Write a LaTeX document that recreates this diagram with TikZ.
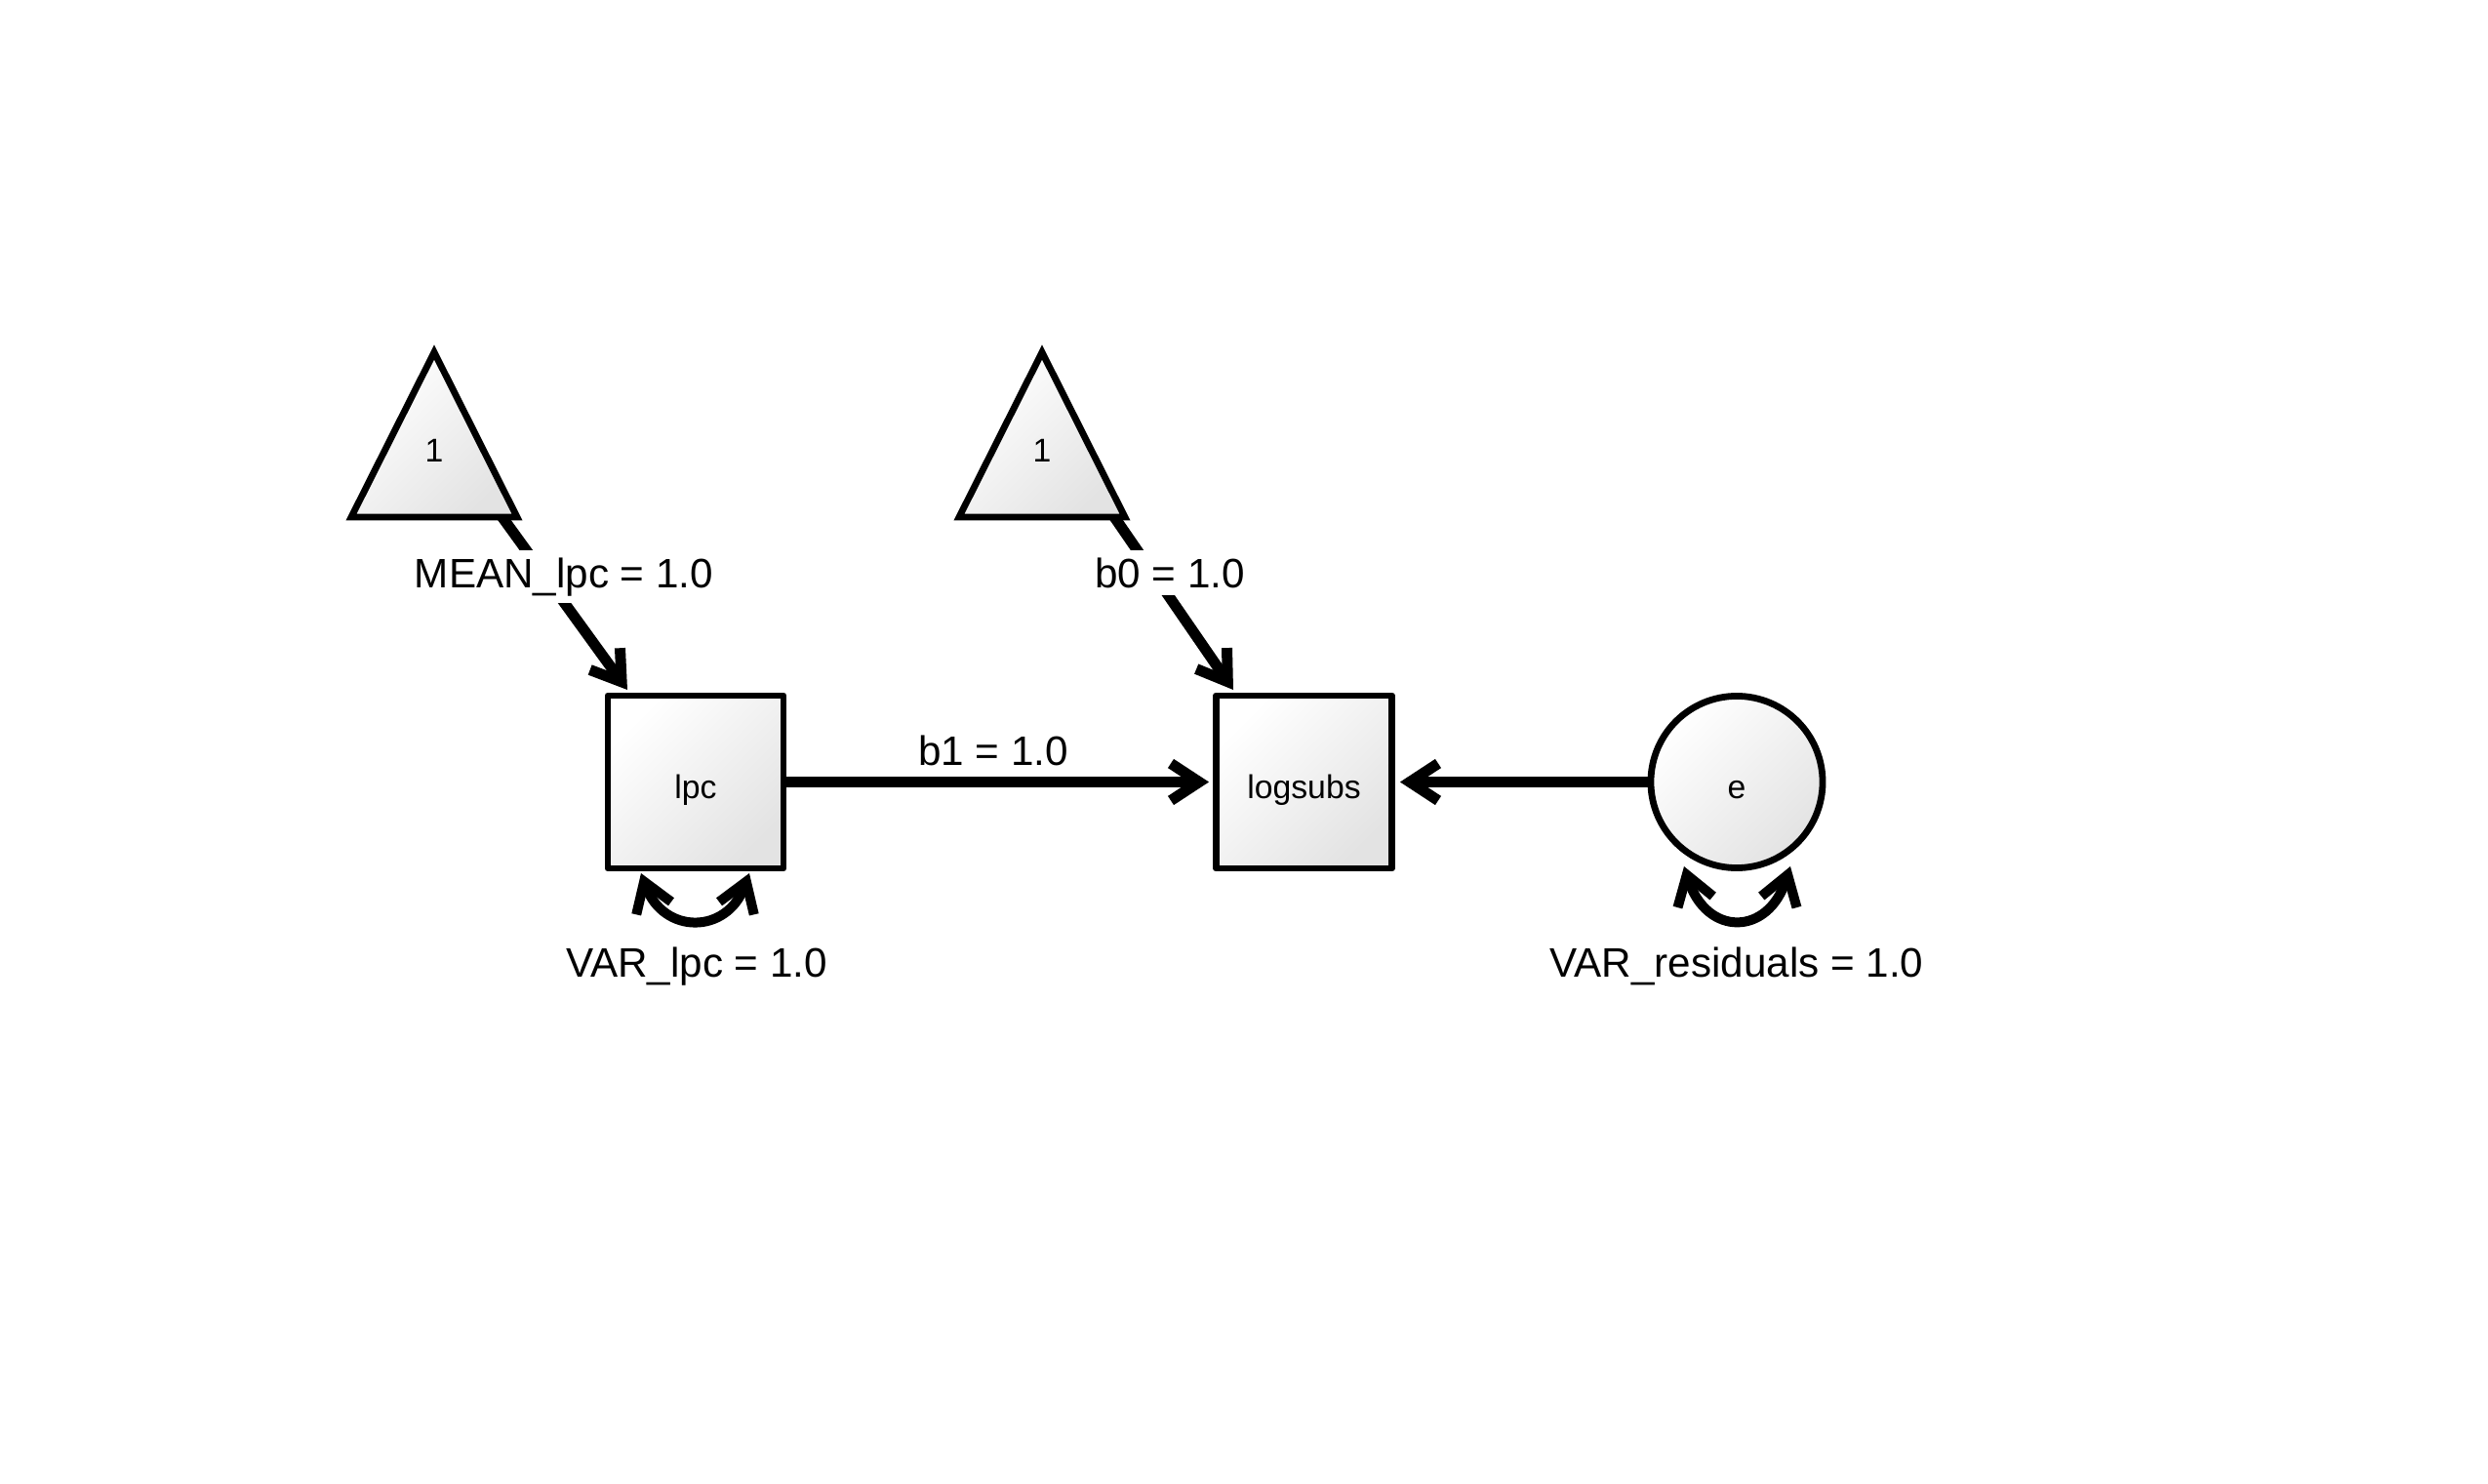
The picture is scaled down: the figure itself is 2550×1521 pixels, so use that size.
\documentclass[tikz,border=0pt]{standalone}
\usepackage{fontspec}
\setmainfont{Liberation Sans}
\usetikzlibrary{arrows.meta,backgrounds,calc}
\begin{document}
\begin{tikzpicture}[x=0.01cm,y=-0.01cm,
  barb/.tip={Straight Barb[length=0.29cm,width=0.38cm,sharp]},
  conn/.style={line width=0.11cm, -barb},
  loopconn/.style={line width=0.10cm, barb-barb},
  shapefill/.style={draw=black, line width=0.068cm, top color=white, bottom color=black!11, shading angle=45},
  nodetext/.style={font=\fontsize{9.6}{11}\selectfont, text height=0.34cm, text depth=0pt, inner sep=0pt},
  varbox/.style={shapefill, rectangle, line join=round, minimum width=1.80cm, minimum height=1.77cm, nodetext},
  varcirc/.style={shapefill, circle, minimum size=1.76cm, nodetext},
  lbl/.style={font=\fontsize{12}{14}\selectfont, fill=white, inner xsep=2pt, inner ysep=2.2pt, anchor=base}
]
\useasboundingbox (0,0) rectangle (2550,1521);

% nodes
\node[varbox] (lpc) at (713,801.5) {lpc};
\node[varbox] (logsubs) at (1336.5,801.5) {logsubs};
\node[varcirc] (e) at (1780,801.5) {e};

% constant triangles
\path[shapefill, line join=miter] (445,361) -- (360,530) -- (530,530) -- cycle;
\node[nodetext] (one1) at (445,456) {1};
\path[shapefill, line join=miter] (1068,361) -- (983,530) -- (1153,530) -- cycle;
\node[nodetext] (one2) at (1068,456) {1};

% connector end points
\coordinate (m1s) at (493,500);
\coordinate (m1e) at (643,707);
\coordinate (b0s) at (1121.5,500);
\coordinate (b0e) at (1264,707);
\coordinate (lpcL) at (657,895);
\coordinate (lpcR) at (768,895);
\coordinate (eL) at (1726,888);
\coordinate (eR) at (1835,888);

\begin{pgfonlayer}{background}
\fill[white] (0,0) rectangle (2550,1521);
\draw[conn] (m1s) -- (m1e);
\draw[conn] (b0s) -- (b0e);
\draw[conn, shorten >=0.04cm] (lpc.east) -- (logsubs.west);
\draw[conn, shorten >=0.05cm] (e.west) -- (logsubs.east);
\draw[loopconn] (lpcL) .. controls (680,958) and (745,958) .. (lpcR);
\draw[loopconn] (eL) .. controls (1749,960) and (1812,960) .. (eR);
\end{pgfonlayer}

% labels
\node[lbl] (meanlbl) at (578,602) {MEAN\_lpc = 1.0};
\node[lbl] (b0lbl) at (1199,602) {b0 = 1.0};
\node[lbl] (b1lbl) at (1018,784) {b1 = 1.0};
\node[lbl] (varlpc) at (714,1001) {VAR\_lpc = 1.0};
\node[lbl] (varres) at (1780,1001) {VAR\_residuals = 1.0};
\end{tikzpicture}
\end{document}
